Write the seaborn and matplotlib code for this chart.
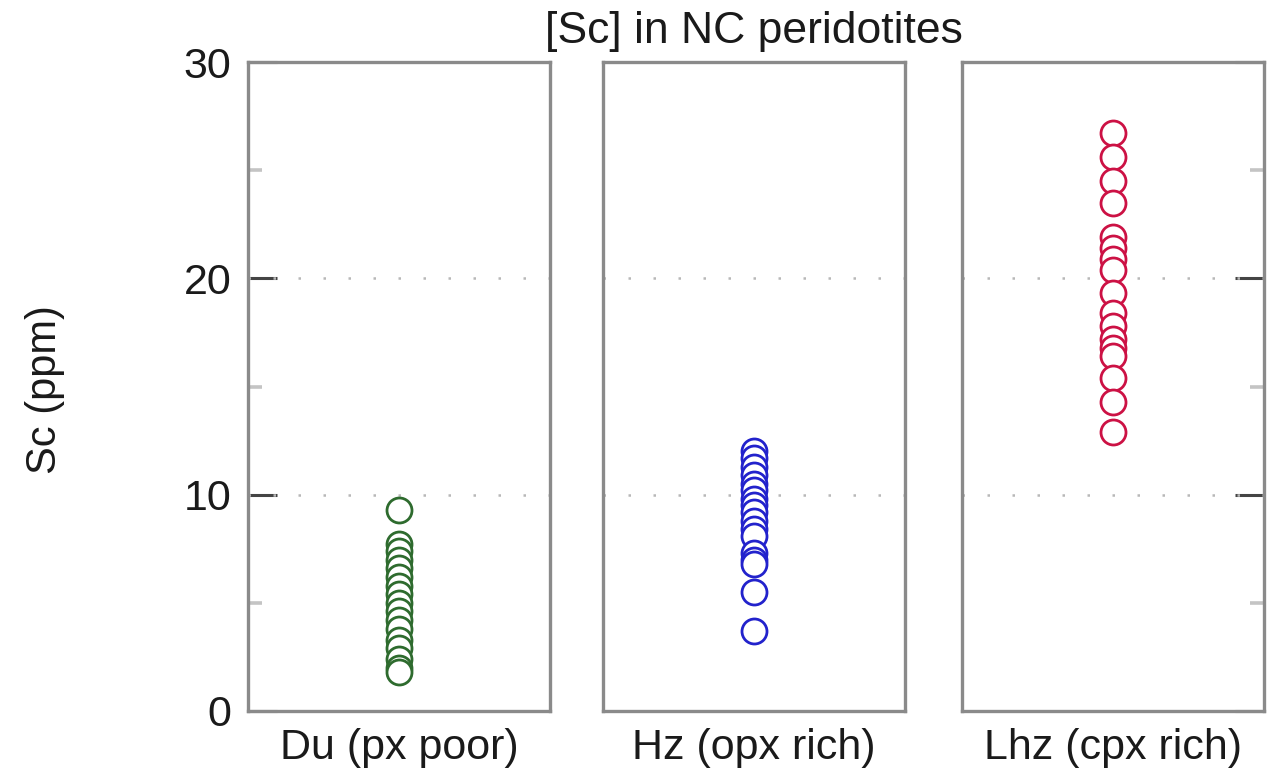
import matplotlib
matplotlib.use("Agg")
import matplotlib.pyplot as plt
import seaborn as sns
import pandas as pd

# Sc concentrations (ppm) per lithology
du_sc = [9.3, 7.7, 7.4, 7.0, 6.6, 6.2, 5.8, 5.4, 5.0, 4.6, 4.2, 3.8, 3.3, 2.9, 2.4, 2.0, 1.8]
hz_sc = [12.0, 11.7, 11.3, 10.9, 10.5, 10.2, 9.8, 9.5, 9.2, 8.8, 8.4, 8.1, 7.3, 7.0, 6.8, 5.5, 3.7]
lhz_sc = [26.7, 25.6, 24.5, 23.5, 21.9, 21.4, 20.9, 20.4, 19.3, 18.4, 17.8, 17.2, 16.8, 16.4, 15.4, 14.3, 12.9]

groups = ["Du (px poor)", "Hz (opx rich)", "Lhz (cpx rich)"]
colors = ["#2e6b2e", "#2222cc", "#cc1144"]
series = [du_sc, hz_sc, lhz_sc]

y_major = [0, 10, 20, 30]
y_minor = [5, 15, 25]

df = pd.DataFrame({
    "group": [g for g, vals in zip(groups, series) for _ in vals],
    "Sc": [v for vals in series for v in vals],
})

sns.set_theme(style="white")
plt.rcParams["font.family"] = ["Liberation Sans", "DejaVu Sans"]

W, H = 1276, 768
fig = plt.figure(figsize=(W / 100, H / 100), dpi=100)

lefts = [248, 603, 962]
width = 302
bottom_px, top_px = 711, 62

text_color = "#1a1a1a"
for i, (g, c, left) in enumerate(zip(groups, colors, lefts)):
    ax = fig.add_axes([left / W, 1 - bottom_px / H, width / W, (bottom_px - top_px) / H])
    sub = df[df["group"] == g]
    sns.stripplot(data=sub, x="group", y="Sc", ax=ax, jitter=False,
                  color="white", edgecolor=c, linewidth=2.0, size=18, zorder=3)
    ax.set_ylim(0, 30)
    ax.set_xlim(-0.5, 0.5)
    ax.set_yticks(y_major)
    ax.set_yticks(y_minor, minor=True)
    ax.set_xlabel("")
    ax.set_ylabel("")
    for y in y_major[1:-1]:
        ax.axhline(y, color="#b8b8b8", linestyle=(0, (1, 9)), linewidth=1.8, zorder=1)
    for s in ax.spines.values():
        s.set_color("#8a8a8a")
        s.set_linewidth(2.4)
        s.set_visible(True)
    ax.tick_params(axis="x", length=0, pad=12, labelsize=31, labelcolor=text_color)
    ax.tick_params(axis="y", which="major", direction="in", length=21, width=2.2,
                   color="#444444", labelsize=31, labelcolor=text_color, pad=12)
    ax.tick_params(axis="y", which="minor", direction="in", length=10, width=2.6,
                   color="#c4c4c4")
    if i == 0:
        ax.tick_params(axis="y", which="both", left=True, right=False, labelleft=True)
    elif i == 2:
        ax.tick_params(axis="y", which="both", left=False, right=True,
                       labelleft=False, labelright=False)
    else:
        ax.tick_params(axis="y", which="both", left=False, right=False, labelleft=False)

fig.text(754 / W, 1 - 32 / H, "[Sc] in NC peridotites", ha="center", va="center",
         fontsize=32, color=text_color)
fig.text(45 / W, 1 - 390 / H, "Sc (ppm)", ha="center", va="center", rotation=90,
         fontsize=30, color=text_color)

fig.savefig("out.png", dpi=100, facecolor="white")
